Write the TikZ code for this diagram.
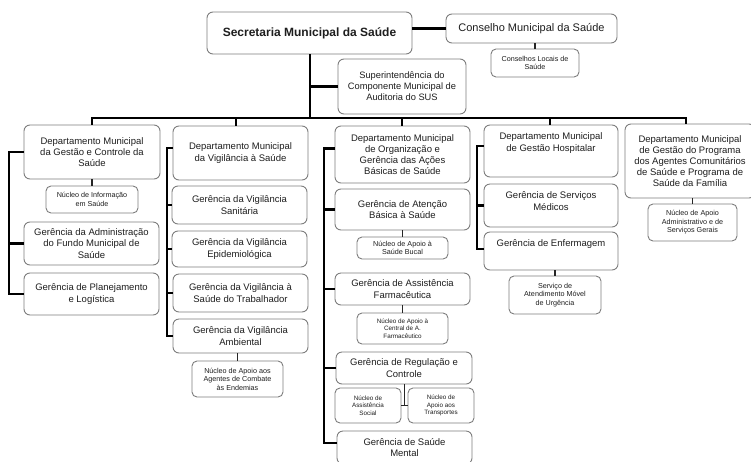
\documentclass[tikz,border=0pt]{standalone}
\usepackage{fontspec}
\setmainfont{Liberation Sans}
\definecolor{boxgray}{RGB}{125,125,125}
\definecolor{txt}{RGB}{30,30,30}
\tikzset{
  box/.style={draw=boxgray, line width=0.9pt, rounded corners=6pt, fill=white, align=center, inner sep=1pt, text=txt},
  fdept/.style={font=\fontsize{9.5}{11.2}\selectfont},
  fsmall/.style={font=\fontsize{7.2}{8.6}\selectfont, rounded corners=5pt},
  ftiny/.style={font=\fontsize{6.3}{7.4}\selectfont, rounded corners=5pt},
  plaintext/.style={align=center, inner sep=0pt, text=txt, font=\fontsize{9.5}{11.2}\selectfont},
  mainline/.style={line width=2.6pt, draw=black},
  thinline/.style={line width=1.2pt, draw=black!85},
}
\begin{document}
\begin{tikzpicture}[x=1pt,y=-1pt]
\useasboundingbox (0,0) rectangle (751,461);
% top level
\node[box, minimum width=205pt, minimum height=42pt, font=\fontsize{12}{14}\selectfont\bfseries] (top) at (309.5,33) {Secretaria Municipal da Saúde};
\node[box, minimum width=171pt, minimum height=29pt, font=\fontsize{11}{13}\selectfont] (cons) at (531.5,28.5) {Conselho Municipal da Saúde};
\node[box, fsmall, minimum width=88pt, minimum height=28pt] (locais) at (535,63) {Conselhos Locais de\\Saúde};
\node[box, minimum width=128pt, minimum height=55pt, font=\fontsize{9.3}{11}\selectfont] (sup) at (402,86.5) {Superintendência do\\Componente Municipal de\\Auditoria do SUS};
% column 1
\node[box, fdept, minimum width=136pt, minimum height=54pt] (d1) at (92,152) {Departamento Municipal\\da Gestão e Controle da\\Saúde};
\node[box, fsmall, minimum width=92pt, minimum height=27pt] (n1) at (92,199.5) {Núcleo de Informação\\em Saúde};
\node[box, fdept, minimum width=135pt, minimum height=43pt] (g1a) at (91.5,243.5) {Gerência da Administração\\do Fundo Municipal de\\Saúde};
\node[box, fdept, minimum width=135pt, minimum height=42pt] (g1b) at (91.5,294) {Gerência de Planejamento\\e Logística};
% column 2
\node[box, fdept, minimum width=135pt, minimum height=54pt] (d2) at (240.5,153) {Departamento Municipal\\da Vigilância à Saúde};
\node[box, fdept, minimum width=135pt, minimum height=38pt] (g2a) at (239.5,205) {Gerência da Vigilância\\Sanitária};
\node[box, fdept, minimum width=135pt, minimum height=36pt] (g2b) at (239.5,249) {Gerência da Vigilância\\Epidemiológica};
\node[box, fdept, minimum width=135pt, minimum height=38pt] (g2c) at (240.5,293) {Gerência da Vigilância à\\Saúde do Trabalhador};
\node[box, fdept, minimum width=135pt, minimum height=34pt] (g2d) at (240.5,336) {Gerência da Vigilância\\Ambiental};
\node[box, fsmall, minimum width=91pt, minimum height=36pt] (n2) at (237.5,379) {Núcleo de Apoio aos\\Agentes de Combate\\às Endemias};
% column 3
\node[box, fdept, minimum width=135pt, minimum height=57pt] (d3) at (402.5,154.5) {Departamento Municipal\\de Organização e\\Gerência das Ações\\Básicas de Saúde};
\node[box, fdept, minimum width=135pt, minimum height=41pt] (g3a) at (402.5,209.5) {Gerência de Atenção\\Básica à Saúde};
\node[box, fsmall, minimum width=91pt, minimum height=22pt] (n3a) at (402.5,248) {Núcleo de Apoio à\\Saúde Bucal};
\node[box, fdept, minimum width=135pt, minimum height=32pt] (g3b) at (402.5,289) {Gerência de Assistência\\Farmacêutica};
\node[box, ftiny, minimum width=91pt, minimum height=31pt] (n3b) at (402.5,328.5) {Núcleo de Apoio à\\Central de A.\\Farmacêutico};
\node[box, fdept, minimum width=136pt, minimum height=32pt] (g3c) at (404,368) {Gerência de Regulação e\\Controle};
\node[box, ftiny, minimum width=66pt, minimum height=35pt] (n3c) at (368,405.5) {Núcleo de\\Assistência\\Social};
\node[box, ftiny, minimum width=66pt, minimum height=35pt] (n3d) at (441,405.5) {Núcleo de\\Apoio aos\\Transportes};
\node[box, fdept, minimum width=135pt, minimum height=33pt] (g3d) at (404.5,447.5) {Gerência de Saúde\\Mental};
% column 4
\node[box, minimum width=134pt, minimum height=52pt] (d4) at (551,151) {};
\node[plaintext] (d4t) at (551,143) {Departamento Municipal\\de Gestão Hospitalar};
\node[box, minimum width=134pt, minimum height=43pt] (g4a) at (551,205.5) {};
\node[plaintext] (g4at) at (551,201) {Gerência de Serviços\\Médicos};
\node[box, minimum width=134pt, minimum height=38pt] (g4b) at (551,251) {};
\node[plaintext] (g4bt) at (551,244) {Gerência de Enfermagem};
\node[box, fsmall, minimum width=92pt, minimum height=38pt] (n4) at (555,295) {Serviço de\\Atendimento Móvel\\de Urgência};
% column 5
\node[box, fdept, minimum width=130pt, minimum height=74pt] (d5) at (690,161) {Departamento Municipal\\de Gestão do Programa\\dos Agentes Comunitários\\de Saúde e Programa de\\Saúde da Família};
\node[box, fsmall, minimum width=89pt, minimum height=37pt] (n5) at (692.5,222.5) {Núcleo de Apoio\\Administrativo e de\\Serviços Gerais};

% ---- connectors ----
\coordinate (trunk) at (310,118);
\coordinate (b1) at (92,118);
\coordinate (b2) at (236,118);
\coordinate (b3) at (402,118);
\coordinate (b4) at (550,118);
\coordinate (b5) at (686,118);
\draw[mainline] (cons.west) -- (cons.west -| top.east);
\draw[thinline] (locais.north) -- (locais.north |- cons.south);
\draw[mainline] (top.south -| trunk) -- (trunk);
\draw[mainline] (sup.west) -- (sup.west -| trunk);
\draw[mainline, line cap=rect] (b1) -- (b5);
\draw[mainline] (b1) -- (b1 |- d1.north);
\draw[mainline] (b2) -- (b2 |- d2.north);
\draw[mainline] (b3) -- (b3 |- d3.north);
\draw[mainline] (b4) -- (b4 |- d4.north);
\draw[mainline] (b5) -- (b5 |- d5.north);
% column 1
\coordinate (c1) at (9,0);
\draw[mainline] (d1.west) -- (d1.west -| c1) -- (c1 |- g1b.west) -- (g1b.west);
\draw[mainline] (c1 |- g1a.west) -- (g1a.west);
\draw[thinline] (d1.south) -- (n1.north);
% column 2
\coordinate (c2) at (167,0);
\draw[mainline] ([yshift=5pt]d2.west) -- ([yshift=5pt]d2.west -| c2) -- (c2 |- g2d.west) -- (g2d.west);
\draw[mainline] (c2 |- g2a.west) -- (g2a.west);
\draw[mainline] (c2 |- g2b.west) -- (g2b.west);
\draw[mainline] (c2 |- g2c.west) -- (g2c.west);
\draw[thinline] (n2.north) -- (n2.north |- g2d.south);
% column 3
\coordinate (c3) at (324,0);
\draw[mainline] ([yshift=6pt]d3.west) -- ([yshift=6pt]d3.west -| c3) -- (c3 |- 0,443) -- (g3d.west |- 0,443);
\draw[mainline] (c3 |- g3a.west) -- (g3a.west);
\draw[mainline] (c3 |- g3b.west) -- (g3b.west);
\draw[mainline] (c3 |- g3c.west) -- (g3c.west);
\draw[thinline] (g3a.south) -- (n3a.north);
\draw[thinline] (g3b.south) -- (n3b.north);
\coordinate (j3) at (404.5,405.5);
\draw[thinline] (g3c.south -| j3) -- (j3);
\draw[thinline] (n3c.east) -- (n3d.west);
% column 4
\coordinate (c4) at (477,0);
\draw[mainline] ([yshift=5pt]d4.west) -- ([yshift=5pt]d4.west -| c4) -- (c4 |- 0,249) -- (g4b.west |- 0,249);
\draw[mainline] (c4 |- g4a.west) -- (g4a.west);
\draw[thinline] (n4.north) -- (n4.north |- g4b.south);
% column 5
\draw[thinline] (n5.north) -- (n5.north |- d5.south);
\end{tikzpicture}
\end{document}
